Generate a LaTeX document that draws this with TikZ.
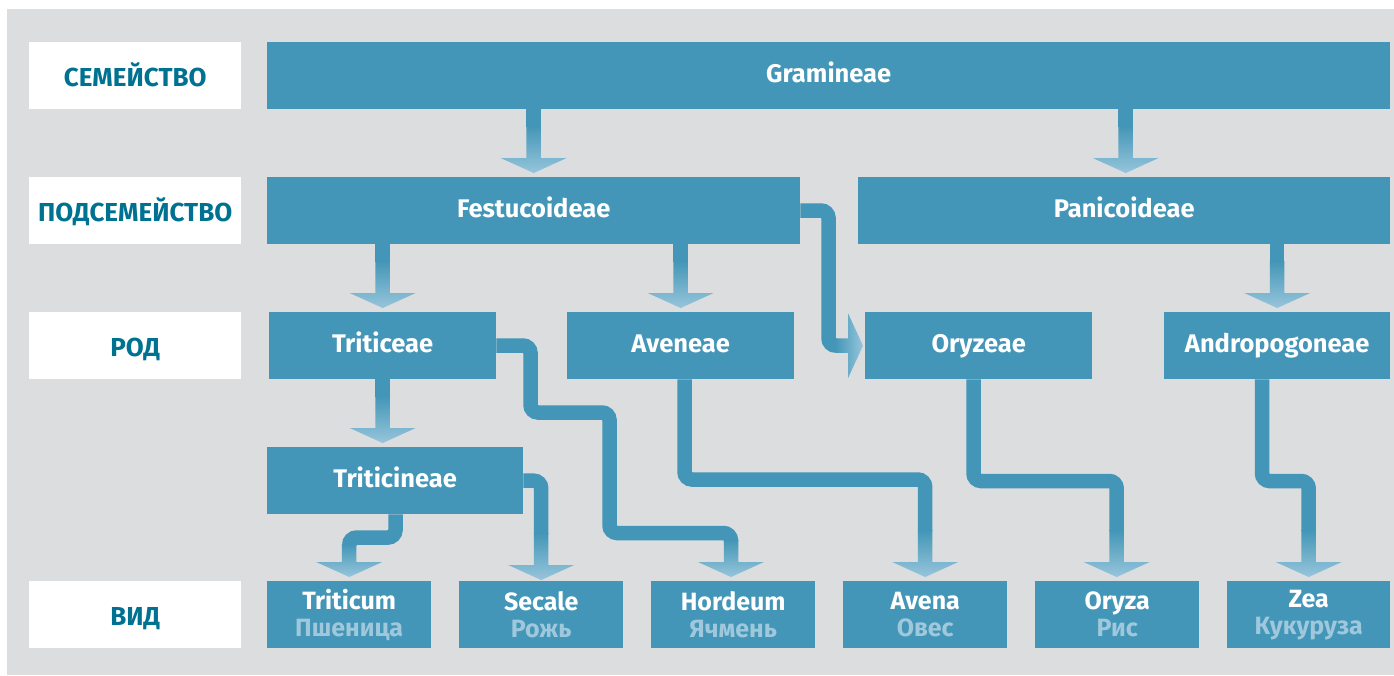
\documentclass[tikz,border=0pt]{standalone}
\usepackage{fontspec}
\setmainfont{Fira Sans}
\usetikzlibrary{calc}
\definecolor{cMain}{HTML}{4396B7}
\definecolor{cLight}{HTML}{97C5DB}
\definecolor{cLabel}{HTML}{007291}
\definecolor{cRus}{HTML}{9FC8DC}
\definecolor{cBg}{HTML}{DCDDDF}
\newcommand\rus[1]{{\color{cRus}#1}}
\tikzset{
  box/.style={fill=cMain, text=white, font=\fontsize{25.5}{27}\selectfont\bfseries,
    anchor=north west, inner sep=0pt, minimum height=67pt, text height=18pt, text depth=5pt},
  sp/.style={fill=cMain, text=white, font=\fontsize{25}{27}\selectfont\bfseries,
    anchor=north west, inner sep=0pt, minimum height=67pt, minimum width=164pt, align=center},
  lab/.style={fill=white, text=cLabel, font=\fontsize{26}{27}\selectfont\bfseries,
    anchor=north west, inner sep=0pt, minimum height=67pt, minimum width=212pt,
    text height=22pt, text depth=0pt},
  conn/.style={draw=cMain, line width=14.5pt, rounded corners=7.5pt},
  pics/vhead/.style={code={\shade[top color=cMain, bottom color=cLight]
    (-7.25pt,#1) -- (-7.25pt,15pt) -- (-33pt,15pt) -- (0pt,0pt) -- (33pt,15pt)
    -- (7.25pt,15pt) -- (7.25pt,#1) -- cycle;}},
  pics/hhead/.style={code={\shade[left color=cMain, right color=cLight]
    (-#1,7.25pt) -- (-15pt,7.25pt) -- (-15pt,32.5pt) -- (0pt,0pt) -- (-15pt,-32.5pt)
    -- (-15pt,-7.25pt) -- (-#1,-7.25pt) -- cycle;}},
}
\begin{document}
\begin{tikzpicture}[x=1pt,y=-1pt]
\useasboundingbox (0,0) rectangle (1394,675);
\fill[cBg] (7,9) rectangle (1394,675);

% row labels
\node[lab] (l1) at (29,42)  {СЕМЕЙСТВО};
\node[lab] (l2) at (29,177) {ПОДСЕМЕЙСТВО};
\node[lab] (l3) at (29,312) {РОД};
\node[lab] (l4) at (29,581) {ВИД};

% taxa
\node[box, minimum width=1123pt] (gram)  at (267,42)   {Gramineae};
\node[box, minimum width=533pt]  (fest)  at (267,177)  {Festucoideae};
\node[box, minimum width=532pt]  (pan)   at (858,177)  {Panicoideae};
\node[box, minimum width=227pt]  (tritc) at (269,312)  {Triticeae};
\node[box, minimum width=227pt]  (ave)   at (567,312)  {Aveneae};
\node[box, minimum width=227pt]  (ory)   at (865,312)  {Oryzeae};
\node[box, minimum width=226pt]  (andro) at (1164,312) {Andropogoneae};
\node[box, minimum width=256pt]  (tcin)  at (267,447)  {Triticineae};

\node[sp] (trit)  at (267,581)  {Triticum\\\rus{Пшеница}};
\node[sp] (sec)   at (459,581)  {Secale\\\rus{Рожь}};
\node[sp] (hord)  at (651,581)  {Hordeum\\\rus{Ячмень}};
\node[sp] (avena) at (843,581)  {Avena\\\rus{Овес}};
\node[sp] (oryza) at (1035,581) {Oryza\\\rus{Рис}};
\node[sp, minimum width=163pt] (zea) at (1227,581) {Zea\\\rus{Кукуруза}};

% bend points
\coordinate (o1) at (828.5,210.5);
\coordinate (h1) at (530.5,345.5);
\coordinate (h2) at (609.5,412.5);
\coordinate (h3) at (731,533);
\coordinate (a1) at (684.5,479.5);
\coordinate (r1) at (973.5,481);
\coordinate (z1) at (1262,481);
\coordinate (c1) at (395.5,537.5);

% straight connectors
\draw[conn] (gram.south -| fest.north) -- ([yshift=50pt]fest.north);
\pic at ([yshift=4pt]fest.north) {vhead=47pt};
\draw[conn] ([xshift=1.5pt]gram.south -| pan.north) -- ([xshift=1.5pt,yshift=50pt]pan.north);
\pic at ([xshift=1.5pt,yshift=4pt]pan.north) {vhead=47pt};
\draw[conn] (fest.south -| tritc.north) -- ([yshift=50pt]tritc.north);
\pic at ([yshift=4pt]tritc.north) {vhead=47pt};
\draw[conn] (fest.south -| ave.north) -- ([yshift=50pt]ave.north);
\pic at ([yshift=4pt]ave.north) {vhead=47pt};
\draw[conn] (pan.south -| andro.north) -- ([yshift=50pt]andro.north);
\pic at ([yshift=4pt]andro.north) {vhead=47pt};
\draw[conn] (tritc.south) -- ([yshift=50pt]tcin.north -| tritc.south);
\pic at ([yshift=4pt]tcin.north -| tritc.south) {vhead=47pt};

% Festucoideae -> Oryzeae
\draw[conn] (fest.east |- o1) -- (o1) |- ([xshift=-29pt]ory.west);
\pic at ([xshift=-2pt]ory.west) {hhead=28pt};

% Triticeae -> Hordeum
\draw[conn] (tritc.east |- h1) -- (h1) |- (h2) |- (h3) -- ([yshift=40pt]hord.north -| h3);
\pic at ([yshift=4pt]hord.north -| h3) {vhead=37pt};

% Aveneae -> Avena
\draw[conn] (ave.south -| a1) -- (a1) -| ([yshift=50pt]avena.north);
\pic at ([yshift=4pt]avena.north) {vhead=47pt};

% Oryzeae -> Oryza
\draw[conn] (ory.south -| r1) -- (r1) -| ([xshift=-0.5pt,yshift=50pt]oryza.north);
\pic at ([xshift=-0.5pt,yshift=4pt]oryza.north) {vhead=47pt};

% Andropogoneae -> Zea
\draw[conn] (andro.south -| z1) -- (z1) -| ([yshift=50pt]zea.north);
\pic at ([yshift=4pt]zea.north) {vhead=47pt};

% Triticineae -> Triticum
\draw[conn] (tcin.south -| c1) -- (c1) -| ([yshift=36pt]trit.north);
\pic at ([yshift=4pt]trit.north) {vhead=33pt};

% Triticineae -> Secale
\draw[conn] (tcin.east) -| ([yshift=47pt]sec.north);
\pic at ([yshift=1pt]sec.north) {vhead=47pt};
\end{tikzpicture}
\end{document}
